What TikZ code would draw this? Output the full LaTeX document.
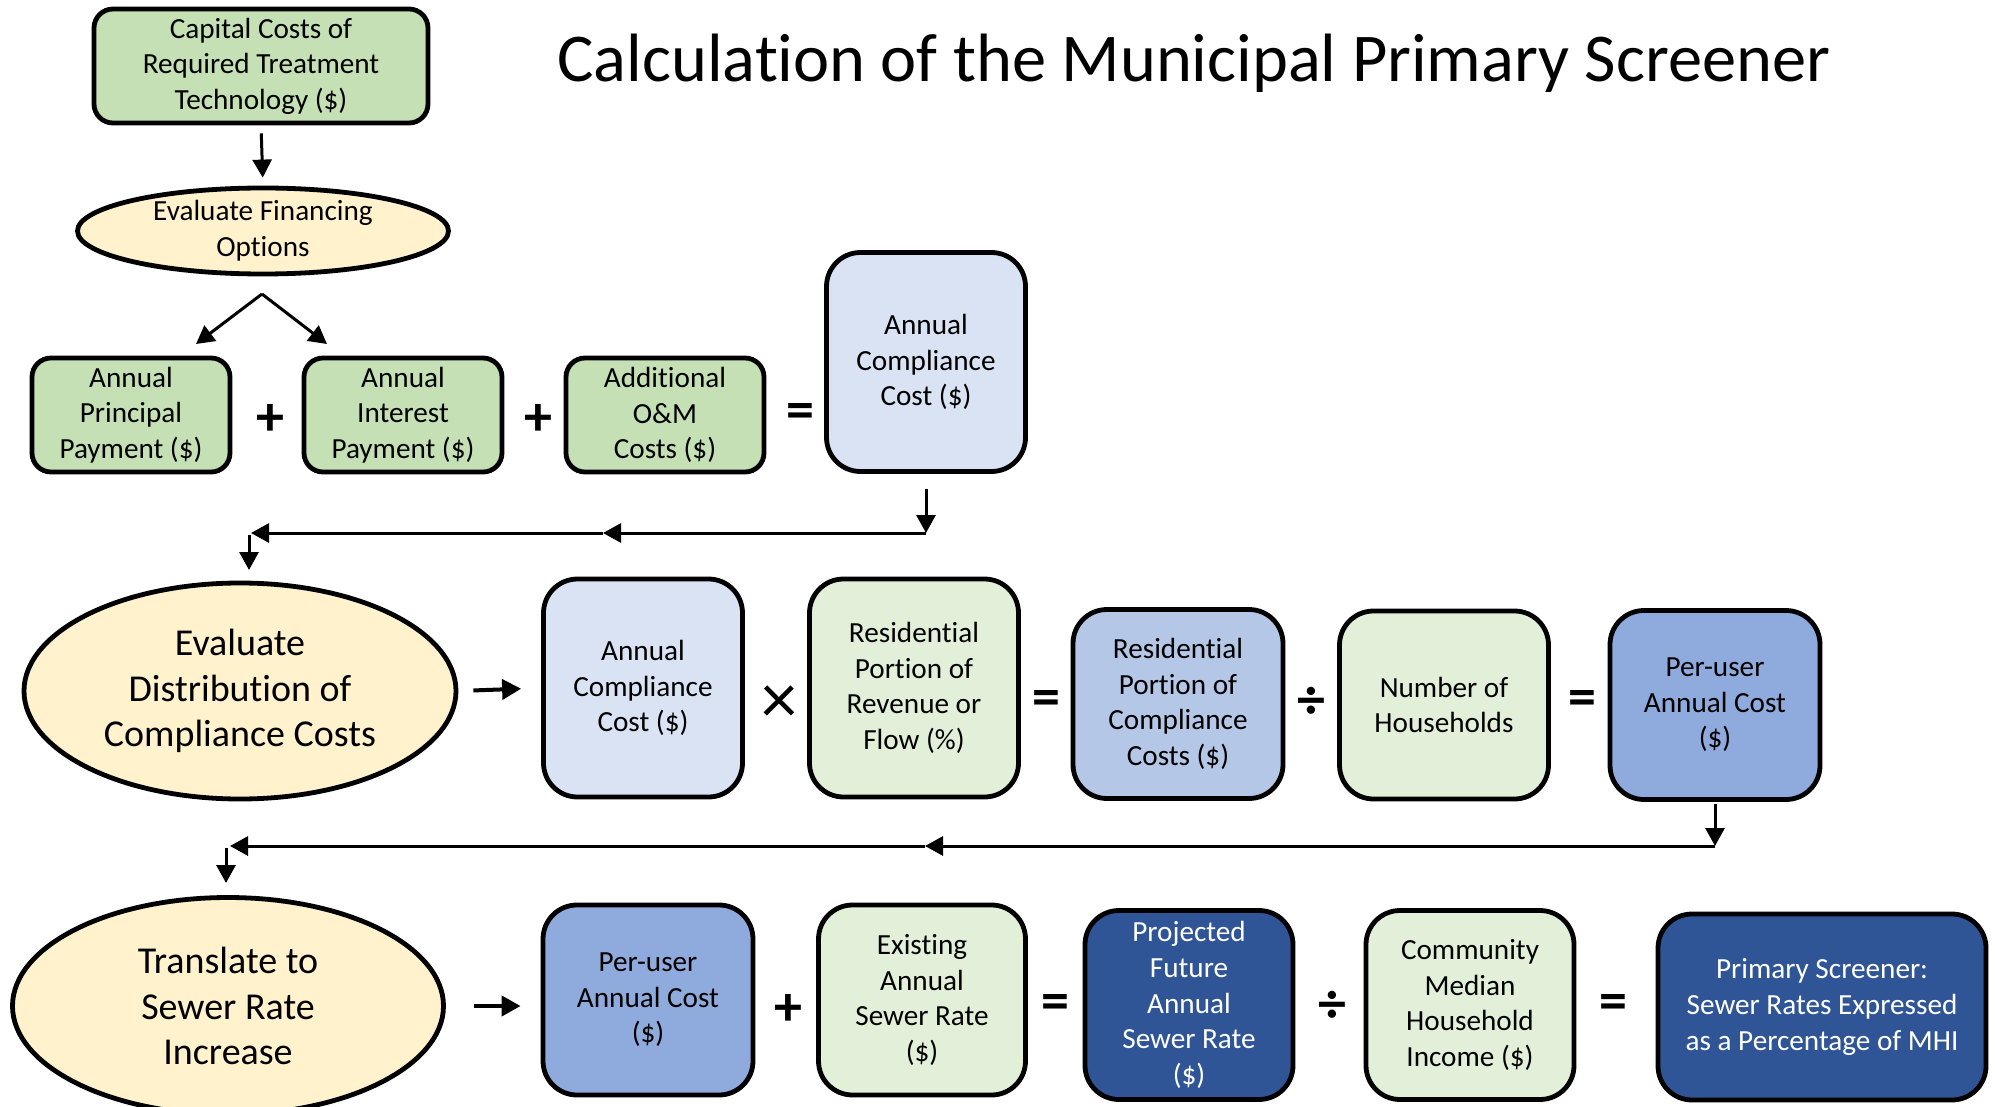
\documentclass[tikz,border=0pt]{standalone}
\usepackage{fontspec}
\setmainfont{Carlito}[Ligatures=NoCommon]
\usetikzlibrary{shapes.geometric,arrows.meta}
\definecolor{leafgreen}{HTML}{C5E0B4}
\definecolor{palegreen}{HTML}{E2F0D9}
\definecolor{cream}{HTML}{FFF2CC}
\definecolor{paleblue}{HTML}{DAE3F3}
\definecolor{midblue}{HTML}{B4C7E7}
\definecolor{skyblue}{HTML}{8FAADC}
\definecolor{navy}{HTML}{2F5597}

\begin{document}
\begin{tikzpicture}[x=0.5pt,y=-0.5pt,
  box/.style={draw, line width=2.4pt, rounded corners=17pt, align=center, inner sep=0pt, font=\fontsize{14.6}{17.8}\selectfont},
  small/.style={box, rounded corners=9.5pt, minimum width=99pt, minimum height=57pt},
  oval/.style={draw, ellipse, line width=2.4pt, fill=cream, align=center, inner sep=0pt},
  op/.style={font=\fontsize{28}{28}\selectfont\bfseries},
  link/.style={line width=1.5pt, -{Triangle[length=9pt,width=9.5pt]}},
  feed/.style={line width=2pt, -{Triangle[length=9.5pt,width=10pt]}}]
\useasboundingbox (0,0) rectangle (1997,1107);
\node (title) at (1194,63) {\fontsize{34.2}{40}\selectfont Calculation of the Municipal Primary Screener};

% financing of the treatment technology
\node[small, fill=leafgreen, minimum width=167pt] (capital) at (261,66) {Capital Costs of\\Required Treatment\\Technology (\$)};
\node[oval, minimum width=185.5pt, minimum height=43pt, font=\fontsize{14.6}{17.8}\selectfont] (financing) at (263,231) {Evaluate Financing\\Options};
\coordinate (split) at (262,294);
\coordinate (toprincipal) at (196,344);
\coordinate (tointerest) at (327,344);
\node[small, fill=leafgreen] (principal) at (131,415) {Annual\\Principal\\Payment (\$)};
\node[op] (plus1) at (270,420) {+};
\node[small, fill=leafgreen] (interest) at (403,415) {Annual\\Interest\\Payment (\$)};
\node[op] (plus2) at (538,420) {+};
\node[small, fill=leafgreen] (om) at (665,415) {Additional\\O\&M\\Costs (\$)};
\node[op] (eq1) at (800,416) {=};
\node[box, fill=paleblue, minimum width=99.5pt, minimum height=109.5pt] (annual) at (926,362) {Annual\\Compliance\\Cost (\$)};

% distribution of compliance costs
\node[oval, minimum width=216pt, minimum height=108pt, font=\fontsize{19}{22.9}\selectfont] (distribution) at (240,691) {Evaluate\\Distribution of\\Compliance Costs};
\node[box, fill=paleblue, minimum width=99.5pt, minimum height=109pt] (annual2) at (643,688) {Annual\\Compliance\\Cost (\$)};
\node[op, font=\fontsize{36}{36}\selectfont] (times) at (779,705) {×};
\node[box, fill=palegreen, minimum width=104.5pt, minimum height=109pt] (portion) at (914,688) {Residential\\Portion of\\Revenue or\\Flow (\%)};
\node[op] (eq2) at (1046,703) {=};
\node[box, fill=midblue, minimum width=105pt, minimum height=94.5pt] (residential) at (1178,704) {Residential\\Portion of\\Compliance\\Costs (\$)};
\node[op] (div1) at (1311,703) {÷};
\node[box, fill=palegreen, minimum width=104.5pt, minimum height=94pt] (households) at (1444,705) {Number of\\Households};
\node[op] (eq3) at (1582,703) {=};
\node[box, fill=skyblue, minimum width=105pt, minimum height=94.5pt] (peruser) at (1715,705) {Per-user\\Annual Cost\\(\$)};

% translation to the sewer rate
\node[oval, minimum width=215.5pt, minimum height=108.5pt, font=\fontsize{19}{22.9}\selectfont] (translate) at (228,1006) {Translate to\\Sewer Rate\\Increase};
\node[box, fill=skyblue, minimum width=105pt, minimum height=95pt] (peruser2) at (648,1000) {Per-user\\Annual Cost\\(\$)};
\node[op] (plus3) at (788,1010) {+};
\node[box, fill=palegreen, minimum width=103.5pt, minimum height=95pt] (existing) at (922,1000) {Existing\\Annual\\Sewer Rate\\(\$)};
\node[op] (eq4) at (1055,1007) {=};
\node[box, fill=navy, text=white, minimum width=104pt, minimum height=94.5pt] (projected) at (1189,1005) {Projected\\Future\\Annual\\Sewer Rate\\(\$)};
\node[op] (div2) at (1332,1007) {÷};
\node[box, fill=palegreen, minimum width=104pt, minimum height=94.5pt] (median) at (1470,1005) {Community\\Median\\Household\\Income (\$)};
\node[op] (eq5) at (1613,1007) {=};
\node[box, fill=navy, text=white, minimum width=164pt, minimum height=93pt] (screener) at (1822,1007) {Primary Screener:\\Sewer Rates Expressed\\as a Percentage of MHI};

% return lines
\coordinate (drop1) at (926,533);
\coordinate (mid1) at (603,533);
\coordinate (end1) at (251,533);
\coordinate (bend1) at (249,535);
\coordinate (into1) at (249,570);
\coordinate (drop2) at (1715,846);
\coordinate (mid2) at (925,846);
\coordinate (end2) at (230,846);
\coordinate (bend2) at (226,848);
\coordinate (into2) at (226,883);

\draw[link, shorten <=4pt, shorten >=4pt] (capital.south) -- (financing.north);
\draw[link] (split) -- (toprincipal);
\draw[link] (split) -- (tointerest);
\draw[link, shorten <=7.5pt] (annual.south) -- (drop1);
\draw[link] (drop1) -- (mid1);
\draw[link] (mid1) -- (end1);
\draw[link] (bend1) -- (into1);
\draw[feed, shorten <=7.5pt, shorten >=10pt] (distribution.east) -- (annual2.west);
\draw[link, shorten <=1pt] (peruser.south) -- (drop2);
\draw[link] (drop2) -- (mid2);
\draw[link] (mid2) -- (end2);
\draw[link] (bend2) -- (into2);
\draw[feed, shorten <=14pt, shorten >=10pt] (translate.east) -- (peruser2.west |- translate.east);
\end{tikzpicture}
\end{document}
